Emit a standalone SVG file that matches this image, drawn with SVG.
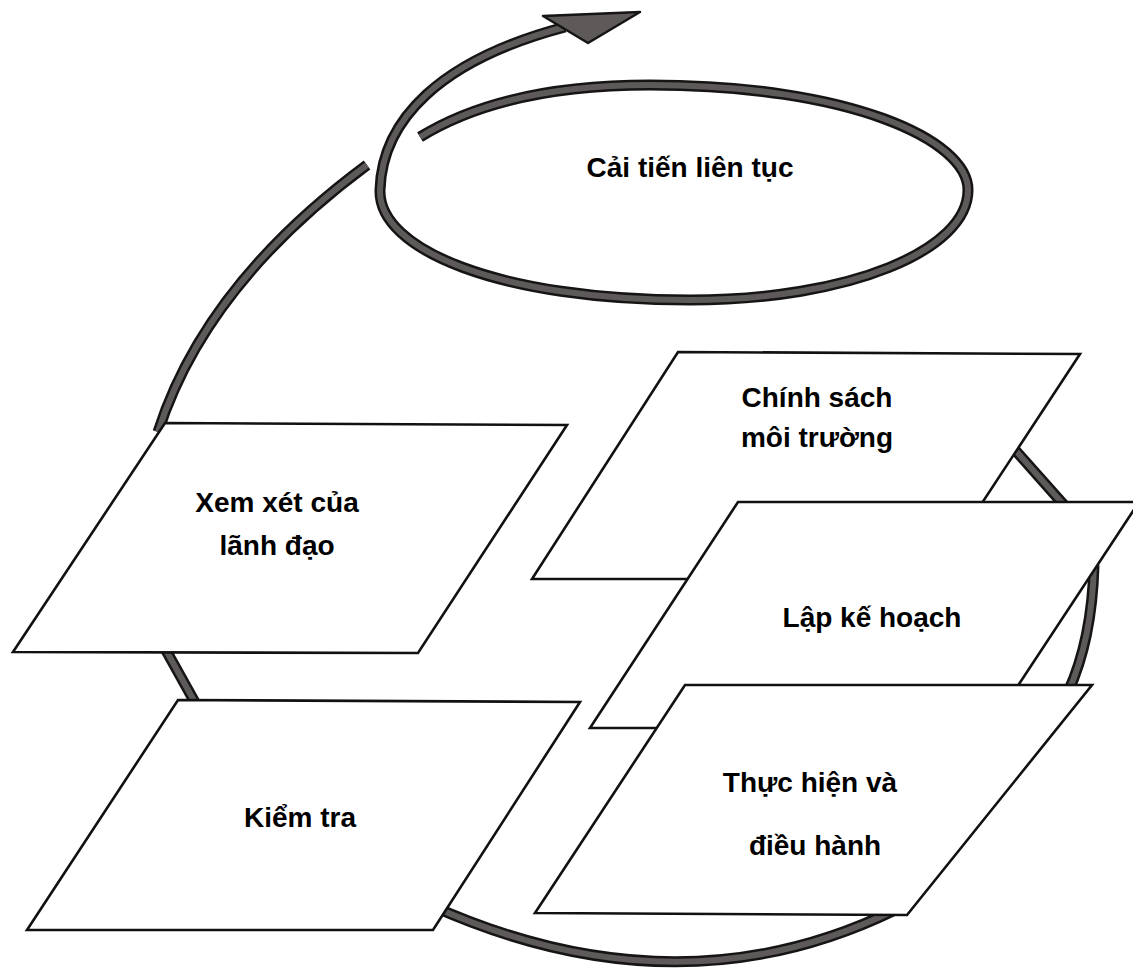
<svg xmlns="http://www.w3.org/2000/svg" width="1133" height="970" viewBox="0 0 1133 970">
<style>
.ol{fill:none;stroke:#161414;stroke-width:11;stroke-linecap:butt;stroke-linejoin:round}
.in{fill:none;stroke:#5e5a5a;stroke-width:6;stroke-linecap:butt;stroke-linejoin:round}
.head{fill:#5e5a5a;stroke:#161414;stroke-width:2.5;stroke-linejoin:round}
.box{fill:#ffffff;stroke:#111111;stroke-width:2.6;stroke-linejoin:miter}
.t{font-family:"Liberation Sans",Arial,sans-serif;font-weight:bold;font-size:28px;fill:#000;text-anchor:middle}
</style>
<rect width="1133" height="970" fill="#ffffff"/>
<g id="connectors">
  <path id="spiral-o" class="ol" d="M 420 137 C 480 100 560 85 650 85 C 850 85 968 140 968 190 C 968 250 850 300 690 300 C 500 300 378 250 380 190 C 382 120 440 60 565 27"/>
  <path class="in" d="M 420 137 C 480 100 560 85 650 85 C 850 85 968 140 968 190 C 968 250 850 300 690 300 C 500 300 378 250 380 190 C 382 120 440 60 565 27"/>
  <polygon class="head" points="543,16 640,12 588,43"/>
  <path class="ol" d="M 158 432 Q 205 285 367 165"/>
  <path class="in" d="M 158 432 Q 205 285 367 165"/>
  <path class="ol" d="M 163 645 L 197 706"/>
  <path class="in" d="M 163 645 L 197 706"/>
  <path class="ol" d="M 1008 442 L 1064 505"/>
  <path class="in" d="M 1008 442 L 1064 505"/>
  <path class="ol" d="M 1068 692 Q 1092 640 1094 565"/>
  <path class="in" d="M 1068 692 Q 1092 640 1094 565"/>
  <path class="ol" d="M 430 905 Q 677 1016 895 910"/>
  <path class="in" d="M 430 905 Q 677 1016 895 910"/>
</g>
<g id="node-xem-xet">
  <polygon class="box" points="165,423 567,425 418,653 13,652"/>
  <text class="t" x="277" y="512">Xem xét của</text>
  <text class="t" x="277" y="555">lãnh đạo</text>
</g>
<g id="node-kiem-tra">
  <polygon class="box" points="178,700 580,702 433,930 27,930"/>
  <text class="t" x="300" y="827">Kiểm tra</text>
</g>
<g id="node-chinh-sach">
  <polygon class="box" points="678,352 1080,354 932,579 532,579"/>
  <text class="t" x="817" y="407">Chính sách</text>
  <text class="t" x="817" y="447">môi trường</text>
</g>
<g id="node-lap-ke-hoach">
  <polygon class="box" points="738,502 1139,502 990,728 590,728"/>
  <text class="t" x="872" y="627">Lập kế hoạch</text>
</g>
<g id="node-thuc-hien">
  <polygon class="box" points="685,685 1092,685 907,915 535,913"/>
  <text class="t" x="810" y="792">Thực hiện và</text>
  <text class="t" x="815" y="855">điều hành</text>
</g>
<g id="node-cai-tien">
  <text class="t" x="690" y="177">Cải tiến liên tục</text>
</g>
</svg>
